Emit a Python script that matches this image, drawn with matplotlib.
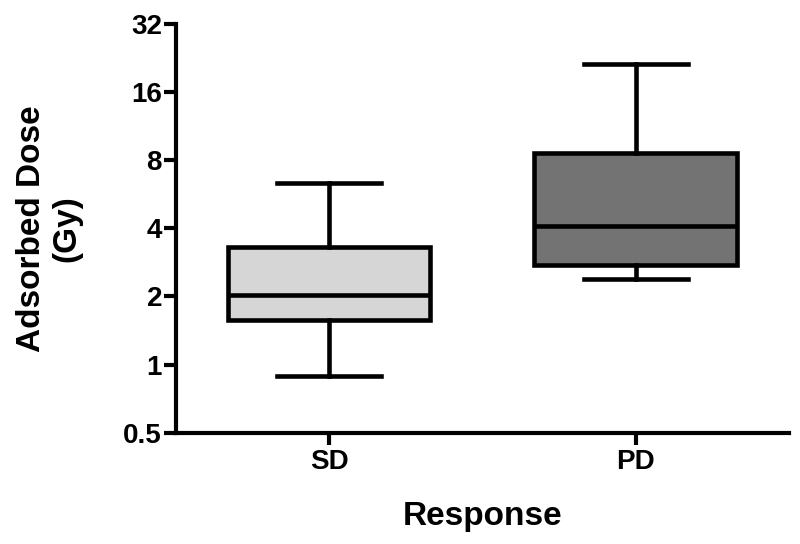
import numpy as np
import matplotlib.pyplot as plt
from matplotlib.ticker import FixedLocator, FixedFormatter, NullLocator

groups = ['SD', 'PD']
whisker_low = [0.89, 2.40]
q1 = [1.58, 2.76]
median = [2.02, 4.11]
q3 = [3.32, 8.64]
whisker_high = [6.37, 21.2]
box_colors = ['#d6d6d6', '#737373']
y_ticks = [0.5, 1, 2, 4, 8, 16, 32]
y_tick_labels = ['0.5', '1', '2', '4', '8', '16', '32']

plt.rcParams['font.family'] = ['Liberation Sans', 'DejaVu Sans']
plt.rcParams['font.weight'] = 'bold'

fig = plt.figure(figsize=(8, 5.44), dpi=100)
ax = fig.add_axes([0.22, 0.2046, 0.766, 0.7514])

stats = []
for i, g in enumerate(groups):
    stats.append(dict(label=g, whislo=whisker_low[i], q1=q1[i], med=median[i],
                      q3=q3[i], whishi=whisker_high[i], fliers=[]))

lw = 3.3
bp = ax.bxp(stats, positions=[0, 1], widths=0.66, capwidths=0.34,
            patch_artist=True, showfliers=False,
            boxprops=dict(linewidth=lw, edgecolor='black'),
            medianprops=dict(linewidth=lw, color='black', solid_capstyle='butt'),
            whiskerprops=dict(linewidth=lw, color='black'),
            capprops=dict(linewidth=lw, color='black'))
for patch, c in zip(bp['boxes'], box_colors):
    patch.set_facecolor(c)

ax.set_yscale('log', base=2)
ax.set_ylim(0.5, 32)
ax.set_xlim(-0.5, 1.5)
ax.yaxis.set_major_locator(FixedLocator(y_ticks))
ax.yaxis.set_major_formatter(FixedFormatter(y_tick_labels))
ax.yaxis.set_minor_locator(NullLocator())
ax.set_xticks([0, 1])
ax.set_xticklabels(groups)

for s in ['top', 'right']:
    ax.spines[s].set_visible(False)
for s in ['left', 'bottom']:
    ax.spines[s].set_linewidth(3)
ax.tick_params(axis='both', width=3, length=8.5, labelsize=20)
ax.tick_params(axis='y', pad=1.5)
ax.tick_params(axis='x', pad=3)

ax.set_xlabel('Response', fontsize=24, fontweight='bold')
ax.set_ylabel('Adsorbed Dose\n(Gy)', fontsize=24, fontweight='bold')
ax.xaxis.set_label_coords(0.5, -0.168)
ax.yaxis.set_label_coords(-0.152, 0.5)

plt.savefig('out.png', dpi=100)
